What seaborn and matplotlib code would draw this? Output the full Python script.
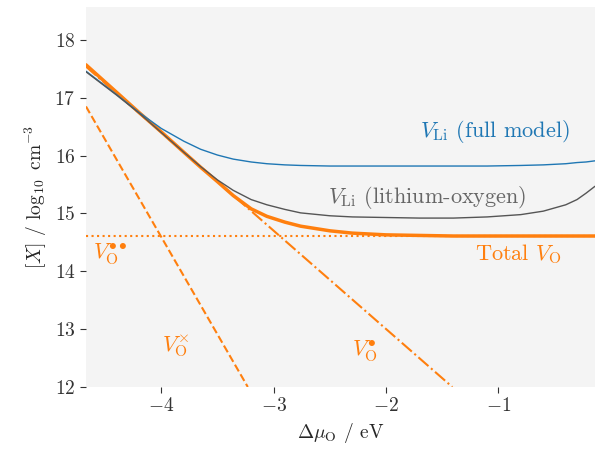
import numpy as np
import pandas as pd
import seaborn as sns
import matplotlib.pyplot as plt

sns.set_style("ticks", {"axes.facecolor": "#f4f4f4"})
plt.rcParams['font.family'] = 'serif'
plt.rcParams['font.serif'] = ['cmr10']
plt.rcParams['mathtext.fontset'] = 'cm'
plt.rcParams['axes.formatter.use_mathtext'] = True
plt.rcParams['font.size'] = 14

# values
dmu = [-4.67, -4.4, -4.2, -4.0, -3.8, -3.65, -3.5, -3.36, -3.2, -3.06, -2.9, -2.76,
       -2.5, -2.3, -2.0, -1.7, -1.4, -1.1, -0.8, -0.6, -0.4, -0.3, -0.22, -0.14]
total_vo = [17.57, 17.10, 16.75, 16.41, 16.06, 15.80, 15.55, 15.31, 15.08, 14.95, 14.85, 14.78,
            14.70, 14.66, 14.63, 14.62, 14.61, 14.61, 14.61, 14.61, 14.61, 14.61, 14.61, 14.61]
vli_lio = [17.45, 17.05, 16.74, 16.40, 16.06, 15.81, 15.58, 15.40, 15.24, 15.15, 15.07, 15.01,
           14.96, 14.94, 14.93, 14.92, 14.92, 14.94, 14.98, 15.04, 15.15, 15.24, 15.35, 15.47]
vli_full = [17.46, 17.06, 16.75, 16.47, 16.25, 16.11, 16.01, 15.94, 15.89, 15.86, 15.84, 15.83,
            15.82, 15.82, 15.82, 15.82, 15.82, 15.82, 15.83, 15.84, 15.86, 15.88, 15.89, 15.91]

vo_dd_x = [-4.67, -0.14]
vo_dd_y = [14.61, 14.61]
vo_d_x = [-4.67, -1.41]
vo_d_y = [17.54, 12.0]
vo_x_x = [-4.67, -3.23]
vo_x_y = [16.85, 12.0]

orange = "#ff7f0e"
blue = "#1f77b4"
grey = "#555555"

fig = plt.figure(figsize=(5.95, 4.51), dpi=100)
ax = fig.add_axes([0.1445, 0.142, 0.8555, 0.8425])

sns.lineplot(x=vo_dd_x, y=vo_dd_y, ax=ax, color=orange, lw=1.5, ls=":")
sns.lineplot(x=vo_d_x, y=vo_d_y, ax=ax, color=orange, lw=1.5, ls="-.")
sns.lineplot(x=vo_x_x, y=vo_x_y, ax=ax, color=orange, lw=1.5, ls="--")
sns.lineplot(x=dmu, y=total_vo, ax=ax, color=orange, lw=2.5)
sns.lineplot(x=dmu, y=vli_full, ax=ax, color=blue, lw=1.0)
sns.lineplot(x=dmu, y=vli_lio, ax=ax, color=grey, lw=1.0)

ax.text(-1.03, 16.41, r'$V_{\mathrm{Li}}$ (full model)', color=blue, ha='center', va='center', fontsize=16)
ax.text(-1.63, 15.28, r'$V_{\mathrm{Li}}$ (lithium-oxygen)', color="#666666", ha='center', va='center', fontsize=16)
ax.text(-0.82, 14.30, r'Total $V_{\mathrm{O}}$', color=orange, ha='center', va='center', fontsize=16)
ax.text(-4.45, 14.30, r'$V_{\mathrm{O}}^{\bullet\bullet}$', color=orange, ha='center', va='center', fontsize=16)
ax.text(-3.87, 12.71, r'$V_{\mathrm{O}}^{\times}$', color=orange, ha='center', va='center', fontsize=16)
ax.text(-2.19, 12.62, r'$V_{\mathrm{O}}^{\bullet}$', color=orange, ha='center', va='center', fontsize=16)

ax.set_xlim(-4.67, -0.14)
ax.set_ylim(12, 18.57)
ax.set_xticks([-4, -3, -2, -1])
ax.set_yticks([12, 13, 14, 15, 16, 17, 18])
ax.set_xlabel(r'$\Delta\mu_{\mathrm{O}}$ / eV')
ax.set_ylabel(r'$[X]$ / $\log_{10}$ cm$^{-3}$')
ax.tick_params(colors="#333333", length=4, width=0.8)
sns.despine(ax=ax, left=True, bottom=True)

plt.savefig("out.png", dpi=100)
